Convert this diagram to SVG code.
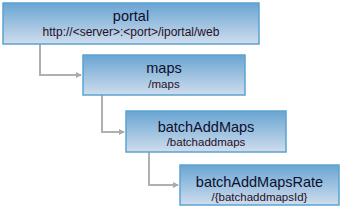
<svg xmlns="http://www.w3.org/2000/svg" width="342" height="208" viewBox="0 0 342 208">
<defs>
<linearGradient id="g" x1="0" y1="0" x2="0" y2="1">
<stop offset="0" stop-color="#69a5d2"/>
<stop offset="1" stop-color="#cfdded"/>
</linearGradient>
<marker id="ah" markerWidth="6" markerHeight="6" refX="5" refY="3" orient="auto" markerUnits="userSpaceOnUse">
<path d="M0,0 L6,3 L0,6 Z" fill="#aaaaaa"/>
</marker>
<style>
.box{fill:url(#g);stroke:#5ba2d1;stroke-width:1.5}
.t{font-family:"Liberation Sans",Arial,sans-serif;font-size:14.5px;fill:#0e0e2e;text-anchor:middle}
.s{font-family:"Liberation Sans",Arial,sans-serif;font-size:11.5px;fill:#2a0e26;text-anchor:middle}
.c{fill:none;stroke:#b0b0b0;stroke-width:2}
</style>
</defs>
<g id="connectors">
<path class="c" d="M40,44 V75 H81" marker-end="url(#ah)"/>
<path class="c" d="M102,95 V132 H124" marker-end="url(#ah)"/>
<path class="c" d="M149,152 V185 H178" marker-end="url(#ah)"/>
</g>
<g id="portal">
<rect class="box" x="3" y="3" width="256" height="41"/>
<text class="t" x="131" y="21">portal</text>
<text class="s" x="131" y="36" style="font-size:12px">http://&lt;server&gt;:&lt;port&gt;/iportal/web</text>
</g>
<g id="maps">
<rect class="box" x="83" y="55" width="162" height="40"/>
<text class="t" x="164" y="73">maps</text>
<text class="s" x="164" y="88">/maps</text>
</g>
<g id="batchAddMaps">
<rect class="box" x="126" y="111" width="160" height="41"/>
<text class="t" x="206" y="132">batchAddMaps</text>
<text class="s" x="206" y="146">/batchaddmaps</text>
</g>
<g id="batchAddMapsRate">
<rect class="box" x="180" y="165" width="159" height="40"/>
<text class="t" x="259.5" y="187">batchAddMapsRate</text>
<text class="s" x="259.5" y="201">/{batchaddmapsId}</text>
</g>
</svg>
